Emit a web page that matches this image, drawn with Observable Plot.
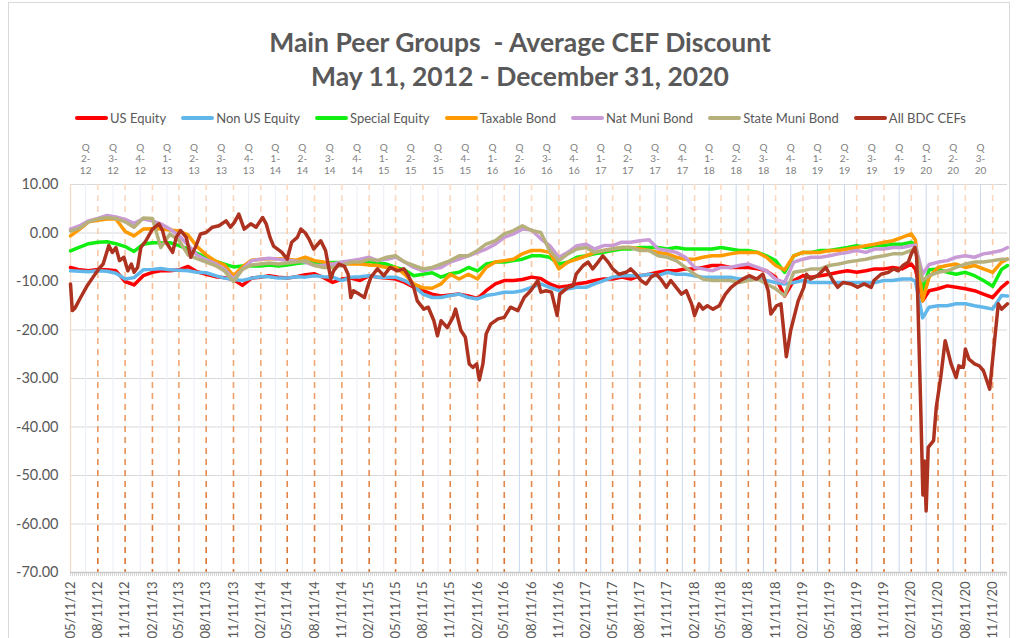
<!DOCTYPE html>
<html>
<head>
<meta charset="utf-8">
<script src="https://cdn.jsdelivr.net/npm/d3@7"></script>
<script src="https://cdn.jsdelivr.net/npm/@observablehq/plot@0.6"></script>
<style>
  body { margin: 0; background: #fff; font-family: Lato, "Open Sans", sans-serif; }
  #wrap { position: relative; width: 1016px; height: 638px; overflow: hidden; background: #fff; }
  #frame { position: absolute; left: 8px; top: 2px; width: 1002px; height: 700px; border: 1px solid #d9d9d9; box-sizing: border-box; }
  #title { position: absolute; left: 24px; top: 25px; width: 992px; text-align: center; font-weight: 700;
           font-size: 26.5px; line-height: 34px; color: #595959; white-space: pre; }
  #legend { position: absolute; left: 75px; top: 108px; height: 20px; display: flex; align-items: center; gap: 15px;
            font-size: 13px; color: #595959; white-space: nowrap; }
  .item { display: flex; align-items: center; gap: 2px; }
  .sw { width: 33px; height: 4px; border-radius: 2px; }
  #chart { position: absolute; left: 0; top: 130px; }
</style>
</head>
<body>
<div id="wrap">
  <div id="frame"></div>
  <div id="title">Main Peer Groups  - Average CEF Discount
May 11, 2012 - December 31, 2020</div>
  <div id="legend"></div>
  <div id="chart"></div>
</div>
<script>
// ---------- data ----------
const seriesNames = ["US Equity", "Non US Equity", "Special Equity", "Taxable Bond", "Nat Muni Bond", "State Muni Bond", "All BDC CEFs"];
const seriesColors = ["#ff0000", "#62b7ea", "#11ee11", "#ff9a00", "#c99bd6", "#b6b07c", "#ad3220"];

const xTickLabels = ["05/11/12","08/11/12","11/11/12","02/11/13","05/11/13","08/11/13","11/11/13","02/11/14","05/11/14","08/11/14","11/11/14",
  "02/11/15","05/11/15","08/11/15","11/11/15","02/11/16","05/11/16","08/11/16","11/11/16","02/11/17","05/11/17","08/11/17","11/11/17",
  "02/11/18","05/11/18","08/11/18","11/11/18","02/11/19","05/11/19","08/11/19","11/11/19","02/11/20","05/11/20","08/11/20","11/11/20"];
const quarterLabels = ["2-12","3-12","4-12","1-13","2-13","3-13","4-13","1-14","2-14","3-14","4-14","1-15","2-15","3-15","4-15",
  "1-16","2-16","3-16","4-16","1-17","2-17","3-17","4-17","1-18","2-18","3-18","4-18","1-19","2-19","3-19","4-19","1-20","2-20","3-20"];
const yTicks = [10, 0, -10, -20, -30, -40, -50, -60, -70];

// observation dates: the 11th of each month May 2012 .. Feb 2020, two crash dates, Apr .. Dec 2020, year end
const gridStart = "2012-05-11";
const crashDates = ["2020-02-25", "2020-03-20"];
const lastDate = "2020-12-31";

const usEquity = [-7.1,-7.6,-7.8,-7.5,-7.6,-7.8,-10.0,-10.7,-8.8,-8.1,
  -7.8,-7.8,-7.6,-6.9,-8.0,-8.5,-9.0,-9.2,-9.6,-10.8,
  -9.3,-9.1,-8.8,-9.1,-9.3,-9.0,-8.6,-8.4,-9.2,-10.2,
  -9.5,-9.3,-9.8,-8.8,-9.1,-9.3,-9.5,-10.2,-11.2,-11.9,
  -12.6,-13.0,-12.8,-12.6,-13.0,-13.5,-11.9,-10.5,-9.8,-9.8,
  -9.6,-9.1,-9.4,-10.5,-11.2,-10.9,-10.5,-10.2,-9.8,-9.5,
  -9.5,-9.1,-9.5,-8.8,-8.5,-8.1,-7.8,-7.8,-7.4,-7.4,
  -7.1,-6.7,-6.7,-7.1,-7.1,-7.1,-7.4,-7.8,-9.1,-13.0,
  -9.8,-8.8,-9.1,-8.8,-8.5,-8.1,-7.8,-8.1,-7.8,-7.4,
  -7.4,-7.1,-7.4,-6.4,
  -7.5,-14.0,
  -11.9,-11.5,-10.9,-11.2,-11.5,-11.9,-12.6,-13.3,-11.2,-10.2];

const nonUsEquity = [-7.8,-7.9,-8.0,-7.8,-7.9,-8.3,-9.5,-9.2,-7.6,-7.5,
  -7.3,-7.6,-7.7,-7.8,-8.1,-8.2,-8.8,-9.3,-9.6,-9.8,
  -9.3,-9.0,-9.0,-9.3,-9.3,-9.0,-9.1,-8.8,-9.0,-9.1,
  -9.8,-9.1,-9.0,-8.8,-9.1,-9.1,-9.1,-9.8,-10.9,-12.6,
  -13.3,-13.3,-12.9,-12.6,-13.3,-13.6,-12.9,-12.6,-12.2,-12.2,
  -11.9,-11.2,-10.5,-11.2,-11.9,-11.5,-11.2,-11.2,-10.5,-9.8,
  -9.1,-8.8,-8.8,-8.8,-8.5,-8.8,-8.1,-8.5,-8.5,-8.8,
  -9.1,-9.1,-9.1,-9.1,-9.5,-9.5,-9.5,-9.8,-10.2,-10.5,
  -10.2,-9.8,-10.2,-10.2,-10.2,-10.2,-10.2,-10.2,-10.2,-10.2,
  -9.8,-9.8,-9.5,-9.5,
  -10.0,-17.5,
  -15.3,-15.0,-15.0,-14.6,-14.6,-15.0,-15.3,-15.7,-12.9,-13.0];

const specialEquity = [-3.7,-2.9,-2.2,-1.9,-1.8,-2.2,-2.8,-3.8,-2.3,-2.0,
  -2.0,-2.0,-2.6,-3.3,-4.2,-5.0,-5.8,-6.4,-7.0,-6.8,
  -6.8,-6.8,-6.6,-6.8,-6.6,-6.3,-6.1,-6.0,-6.2,-6.1,
  -6.1,-6.0,-6.1,-5.9,-6.2,-6.4,-7.1,-7.6,-8.8,-8.5,
  -8.2,-9.1,-8.4,-8.1,-7.1,-7.8,-6.4,-6.0,-6.0,-5.7,
  -5.4,-4.7,-4.7,-5.0,-6.4,-6.0,-5.0,-4.7,-4.3,-4.0,
  -3.6,-3.3,-3.3,-3.0,-3.0,-3.0,-3.3,-3.0,-3.3,-3.3,
  -3.3,-3.3,-3.0,-3.3,-3.6,-3.6,-4.0,-4.7,-5.7,-8.1,
  -4.7,-4.0,-4.0,-3.6,-3.6,-3.3,-3.0,-2.6,-3.0,-2.6,
  -2.6,-2.3,-2.3,-1.9,
  -2.5,-11.9,
  -7.6,-7.4,-8.1,-8.5,-8.1,-8.8,-9.8,-11.0,-7.5,-6.7];

const taxableBond = [-0.6,0.8,2.3,2.6,2.9,2.9,0.3,-0.6,0.8,0.9,
  0.8,0.6,0.4,-0.4,-2.8,-4.5,-5.8,-6.6,-8.8,-7.0,
  -5.6,-5.4,-5.3,-5.3,-5.4,-5.6,-5.0,-5.7,-6.0,-6.4,
  -6.4,-6.4,-6.4,-6.6,-6.7,-7.1,-7.1,-8.5,-10.5,-11.3,
  -11.4,-10.5,-8.5,-9.5,-8.5,-9.5,-7.1,-6.0,-5.7,-5.4,
  -4.3,-3.6,-3.6,-4.0,-7.4,-6.0,-5.4,-4.7,-4.0,-3.6,
  -3.3,-3.0,-3.0,-3.3,-3.6,-4.0,-4.3,-5.0,-5.4,-5.4,
  -5.0,-4.7,-4.7,-4.3,-4.0,-4.0,-4.0,-5.0,-6.7,-7.6,
  -4.7,-4.0,-4.0,-4.0,-3.6,-3.6,-3.3,-3.0,-2.6,-2.3,
  -1.9,-1.6,-0.9,-0.2,
  -1.5,-14.0,
  -9.1,-7.1,-6.7,-6.4,-7.1,-6.7,-7.4,-8.1,-6.0,-5.4];

const natMuniBond = [0.8,1.5,2.5,3.0,3.6,3.3,2.8,2.0,2.9,2.5,
  1.9,0.8,-0.5,-2.5,-4.5,-5.5,-6.3,-7.4,-9.5,-7.5,
  -5.7,-5.4,-5.2,-5.4,-5.6,-5.8,-6.0,-6.7,-6.7,-6.4,
  -6.0,-5.7,-5.4,-5.0,-5.7,-5.4,-5.0,-6.0,-7.1,-7.8,
  -7.4,-7.1,-6.0,-5.4,-4.7,-4.0,-3.3,-2.3,-0.9,-0.2,
  0.8,0.6,-1.2,-2.6,-5.0,-4.0,-2.6,-2.3,-3.3,-2.6,
  -2.6,-1.9,-1.9,-1.6,-1.4,-3.3,-3.6,-4.0,-5.0,-7.1,
  -7.4,-7.8,-7.1,-7.1,-6.7,-6.4,-7.1,-7.8,-9.5,-10.2,
  -6.0,-5.4,-5.0,-5.0,-4.7,-4.3,-4.0,-3.6,-4.0,-3.3,
  -3.3,-3.0,-3.0,-2.6,
  -2.5,-8.5,
  -6.5,-6.0,-5.7,-5.0,-4.7,-5.0,-4.3,-4.0,-3.6,-3.0];

const stateMuniBond = [0.4,1.0,2.3,2.9,3.2,3.0,2.3,1.2,3.1,3.0,
  -3.0,-0.2,-1.5,-4.5,-5.3,-6.0,-6.7,-7.8,-10.0,-7.5,
  -6.6,-6.4,-6.2,-6.4,-6.2,-6.0,-5.7,-6.7,-7.1,-7.1,
  -6.7,-6.0,-6.0,-5.4,-5.7,-5.0,-4.7,-6.0,-6.7,-7.4,
  -7.1,-6.4,-5.7,-4.7,-4.7,-3.6,-2.3,-1.6,-0.2,0.5,
  1.5,0.5,0.1,-3.6,-5.7,-4.3,-3.3,-3.0,-4.0,-3.6,
  -3.3,-3.0,-3.0,-3.6,-3.6,-4.7,-5.0,-5.7,-7.1,-8.5,
  -9.5,-9.8,-9.8,-9.8,-10.2,-9.8,-9.5,-10.5,-11.5,-12.9,
  -8.1,-7.8,-7.4,-7.4,-6.7,-6.4,-6.0,-5.7,-5.4,-5.0,
  -4.7,-4.3,-4.3,-3.6,
  -3.0,-9.8,
  -8.8,-8.1,-7.8,-7.1,-6.4,-6.0,-6.0,-5.7,-5.4,-5.4];

const bdcDates = ["2012-05-11","2012-05-17","2012-05-26","2012-06-14","2012-07-05","2012-07-26","2012-08-14","2012-08-29","2012-09-17","2012-09-29",
  "2012-10-11","2012-10-23","2012-11-07","2012-11-20","2012-12-02","2012-12-11","2012-12-23","2013-01-03","2013-01-20","2013-02-11",
  "2013-03-05","2013-03-17","2013-03-26","2013-04-20","2013-05-02","2013-05-17","2013-06-05","2013-06-20","2013-07-08","2013-07-23",
  "2013-08-11","2013-09-01","2013-09-23","2013-10-17","2013-11-01","2013-11-14","2013-11-29","2013-12-17","2014-01-08","2014-01-26",
  "2014-02-17","2014-03-01","2014-03-14","2014-03-26","2014-04-23","2014-05-11","2014-05-26","2014-06-14","2014-06-26","2014-07-11",
  "2014-07-23","2014-08-08","2014-09-01","2014-09-17","2014-10-05","2014-10-14","2014-11-01","2014-11-20","2014-12-02","2014-12-11",
  "2014-12-20","2015-01-08","2015-01-26","2015-02-05","2015-02-17","2015-03-11","2015-04-01","2015-04-23","2015-05-17","2015-06-08",
  "2015-06-23","2015-07-11","2015-07-23","2015-08-14","2015-08-29","2015-09-17","2015-09-29","2015-10-11","2015-11-01","2015-11-20",
  "2015-11-29","2015-12-17","2016-01-01","2016-01-14","2016-01-26","2016-02-08","2016-02-17","2016-02-29","2016-03-11","2016-03-26",
  "2016-04-20","2016-05-11","2016-06-01","2016-06-26","2016-07-17","2016-08-08","2016-09-01","2016-09-11","2016-09-29","2016-10-17",
  "2016-11-05","2016-11-14","2016-12-11","2016-12-29","2017-01-08","2017-02-01","2017-02-17","2017-03-05","2017-03-23","2017-04-08",
  "2017-04-26","2017-05-11","2017-06-01","2017-06-26","2017-07-11","2017-07-29","2017-08-14","2017-09-01","2017-09-17","2017-10-05",
  "2017-10-20","2017-11-08","2017-11-23","2017-12-11","2017-12-29","2018-01-14","2018-02-01","2018-02-11","2018-02-26","2018-03-11",
  "2018-03-26","2018-04-14","2018-05-05","2018-05-26","2018-06-14","2018-06-29","2018-07-23","2018-08-14","2018-09-08","2018-09-29",
  "2018-10-17","2018-10-26","2018-11-14","2018-11-29","2018-12-17","2019-01-01","2019-01-26","2019-02-14","2019-02-23","2019-03-08",
  "2019-04-01","2019-04-29","2019-05-23","2019-06-08","2019-06-26","2019-07-23","2019-08-14","2019-09-05","2019-09-29","2019-10-08",
  "2019-11-01","2019-11-26","2019-12-14","2019-12-29","2020-01-14","2020-02-01","2020-02-11","2020-02-23","2020-02-29","2020-03-08",
  "2020-03-14","2020-03-21","2020-03-26","2020-04-01","2020-04-08","2020-04-26","2020-05-05","2020-05-20","2020-06-04","2020-06-24",
  "2020-07-11","2020-07-20","2020-08-04","2020-08-11","2020-08-23","2020-09-11","2020-09-27","2020-10-11","2020-11-01","2020-11-14",
  "2020-11-30","2020-12-11","2020-12-31"];
const bdcValues = [-10.5,-16.0,-15.5,-13.3,-11.0,-9.1,-7.4,-6.4,-2.6,-4.0,
  -3.0,-5.7,-5.0,-7.8,-6.4,-8.1,-7.1,-3.0,-1.6,0.8,
  1.9,0.5,-1.6,-4.0,-0.9,0.5,-0.9,-5.0,-2.6,-0.2,
  0.1,1.2,1.5,2.5,1.2,2.2,3.9,0.8,1.9,1.2,
  3.2,1.9,-0.9,-2.7,-4.0,-5.4,-1.9,-0.9,0.8,0.0,
  -1.2,-3.3,-1.6,-3.6,-9.5,-7.8,-6.4,-6.9,-8.5,-13.3,
  -11.9,-12.6,-13.3,-11.2,-9.1,-7.4,-8.8,-7.1,-7.8,-7.4,
  -8.8,-11.2,-14.0,-15.7,-15.3,-18.1,-21.2,-18.1,-19.5,-17.4,
  -15.7,-20.1,-21.5,-27.0,-27.7,-27.0,-30.3,-27.0,-20.8,-18.8,
  -17.7,-17.4,-15.3,-16.0,-13.3,-11.9,-9.8,-12.2,-11.9,-12.2,
  -17.0,-12.6,-11.2,-10.9,-8.5,-6.7,-6.0,-7.4,-6.0,-4.7,
  -6.0,-7.4,-8.5,-8.1,-7.4,-8.5,-9.8,-10.5,-9.1,-8.5,
  -9.5,-11.2,-9.8,-11.2,-12.6,-11.9,-14.6,-17.0,-14.6,-15.7,
  -15.0,-15.7,-15.0,-12.6,-11.2,-10.5,-9.5,-8.8,-9.5,-8.5,
  -11.9,-16.7,-15.0,-14.6,-25.5,-20.0,-14.0,-11.2,-8.5,-9.5,
  -8.8,-7.1,-9.8,-11.2,-10.2,-10.5,-11.2,-10.5,-11.2,-9.8,
  -8.5,-8.1,-7.4,-7.8,-6.7,-6.0,-4.3,-3.0,-5.0,-23.0,
  -36.6,-54.0,-47.0,-57.3,-44.2,-42.8,-36.0,-29.8,-22.2,-27.0,
  -29.8,-27.4,-27.7,-23.9,-26.0,-27.0,-27.4,-28.4,-32.2,-24.3,
  -14.6,-15.7,-14.6];

// ---------- build ----------
const parseISO = d3.utcParse("%Y-%m-%d");
const parseTick = d3.utcParse("%m/%d/%y");
const start = parseISO(gridStart);
const gridDates = [];
for (let i = 0; i <= 93; i++) gridDates.push(d3.utcMonth.offset(start, i));
crashDates.forEach(s => gridDates.push(parseISO(s)));
for (let i = 95; i <= 103; i++) gridDates.push(d3.utcMonth.offset(start, i));
gridDates.push(parseISO(lastDate));

const seriesValues = [usEquity, nonUsEquity, specialEquity, taxableBond, natMuniBond, stateMuniBond];
const rows = [];
seriesValues.forEach((vals, k) => vals.forEach((v, i) => rows.push({series: seriesNames[k], date: gridDates[i], value: v})));
const bdcRows = bdcDates.map((d, i) => ({series: seriesNames[6], date: parseISO(d), value: bdcValues[i]}));

const tickDates = xTickLabels.map(parseTick);
const quarterDates = quarterLabels.map(s => {
  const [q, yy] = s.split("-").map(Number);
  return new Date(Date.UTC(2000 + yy, q * 3, 1));
});
const quarterRows = quarterLabels.map((s, i) => ({date: quarterDates[i], label: "Q\n" + s.split("-")[0] + "-\n" + s.split("-")[1]}));
const splitDate = parseISO("2016-06-01");

const lineMarks = seriesNames.slice(0, 6).map((name, k) =>
  Plot.line(rows.filter(r => r.series === name), {x: "date", y: "value", stroke: seriesColors[k], strokeWidth: 3.5, strokeLinejoin: "round"}));

const svg = Plot.plot({
  width: 1016,
  height: 508,
  marginLeft: 70,
  marginRight: 9,
  marginTop: 54,
  marginBottom: 66,
  style: {fontFamily: "Lato, 'Open Sans', sans-serif", color: "#595959", background: "transparent", overflow: "visible"},
  x: {type: "utc", domain: [parseISO("2012-05-11"), parseISO("2020-12-31")]},
  y: {domain: [-70, 10]},
  marks: [
    Plot.gridY(yTicks.filter(t => t > -70), {stroke: "#d9d9d9", strokeOpacity: 1, strokeWidth: 1}),
    Plot.ruleX(quarterDates.filter(d => d < splitDate), {y1: 10, y2: -70, stroke: "#e9eef6", strokeWidth: 1}),
    Plot.ruleX(quarterDates.filter(d => d >= splitDate), {y1: 10, y2: -70, stroke: "#c9d9ee", strokeWidth: 1}),
    Plot.ruleX(tickDates.slice(0, 1), {y1: 10, y2: -70, stroke: "#f8d8c0", strokeWidth: 1.2}),
    Plot.ruleX(tickDates.slice(1), {y1: 10, y2: -70, stroke: "url(#dashGrad)", strokeWidth: 1.6, strokeDasharray: "6,5"}),
    ...lineMarks,
    Plot.line(bdcRows, {x: "date", y: "value", stroke: seriesColors[6], strokeWidth: 3.5, strokeLinejoin: "round"}),
    Plot.ruleY([-70], {stroke: "#c8c8c8", strokeWidth: 1.5}),
    Plot.ruleY([-70], {stroke: "#d6d6d6", strokeWidth: 3, strokeDasharray: "1,1", dy: 2}),
    Plot.axisY({ticks: yTicks, tickFormat: d => d.toFixed(2), tickSize: 0, tickPadding: 12, fontSize: 14.5, label: null}),
    Plot.axisX({ticks: tickDates, tickFormat: d3.utcFormat("%m/%d/%y"), tickRotate: -90, tickSize: 0, tickPadding: 9, fontSize: 13, label: null}),
    Plot.text(quarterRows, {x: "date", text: "label", frameAnchor: "top", dy: -42, lineAnchor: "top", fontSize: 10, lineHeight: 1.15, fill: "#7f7f7f"})
  ]
});

const defs = document.createElementNS("http://www.w3.org/2000/svg", "defs");
defs.innerHTML = '<linearGradient id="dashGrad" gradientUnits="userSpaceOnUse" x1="0" y1="54" x2="0" y2="442">' +
  '<stop offset="0" stop-color="#fcdcc6"/><stop offset="0.5" stop-color="#f0a36e"/><stop offset="1" stop-color="#d9702c"/></linearGradient>';
svg.insertBefore(defs, svg.firstChild);
document.getElementById("chart").appendChild(svg);

// legend
const legend = document.getElementById("legend");
seriesNames.forEach((name, k) => {
  const item = document.createElement("div");
  item.className = "item";
  const sw = document.createElement("div");
  sw.className = "sw";
  sw.style.background = seriesColors[k];
  const lab = document.createElement("span");
  lab.textContent = name;
  item.appendChild(sw);
  item.appendChild(lab);
  legend.appendChild(item);
});
</script>
</body>
</html>
